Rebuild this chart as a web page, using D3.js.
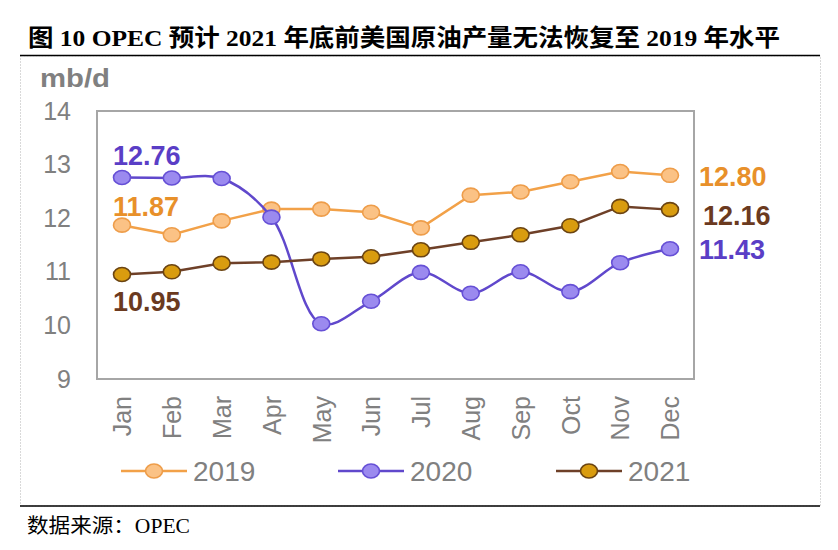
<!DOCTYPE html>
<html><head><meta charset="utf-8">
<script src="https://cdn.jsdelivr.net/npm/d3@7/dist/d3.min.js"></script>
<style>body{margin:0;background:#fff}svg{display:block}</style>
</head><body>
<svg id="c" width="838" height="550"></svg>
<script>
const months = ["Jan","Feb","Mar","Apr","May","Jun","Jul","Aug","Sep","Oct","Nov","Dec"];
const s2019 = [11.87,11.69,11.95,12.17,12.17,12.11,11.82,12.43,12.49,12.68,12.87,12.80];
const s2020 = [12.76,12.75,12.74,12.02,10.03,10.45,10.99,10.60,11.00,10.63,11.17,11.43];
const s2021 = [10.95,11.00,11.16,11.18,11.24,11.28,11.41,11.55,11.69,11.86,12.22,12.16];
const yTicks = [9,10,11,12,13,14];
const seriesNames = ["2019","2020","2021"];
const title = "图 10 OPEC 预计 2021 年底前美国原油产量无法恢复至 2019 年水平";
const source = "数据来源：OPEC";
const unit = "mb/d";

const svg = d3.select("#c");
const x = d3.scalePoint().domain(months).range([122, 670]);
const y = d3.scaleLinear().domain([9, 14]).range([379, 111]);

const styles = [
  {name:"2019", data:s2019, line:"#f2a148", fill:"#fbc285", stroke:"#ee9d4a", label:"#e8902a", curve:d3.curveLinear},
  {name:"2020", data:s2020, line:"#6048cc", fill:"#9b8aef", stroke:"#6650d6", label:"#5a3ec6", curve:d3.curveCatmullRom.alpha(0.5)},
  {name:"2021", data:s2021, line:"#6e4028", fill:"#d99c0f", stroke:"#6b4412", label:"#6b3a1f", curve:d3.curveLinear}
];

// outer frame
svg.append("rect").attr("x",20.5).attr("y",56).attr("width",800).attr("height",450)
  .attr("fill","none").attr("stroke","#d9d9d9").attr("stroke-width",1).attr("stroke-dasharray","2,1");

// title
svg.append("text").attr("x",28).attr("y",46).text(title)
  .attr("font-family","'Liberation Serif','Noto Sans CJK SC',serif").attr("font-weight","bold")
  .attr("font-size",24).attr("fill","#000").attr("textLength",752).attr("lengthAdjust","spacingAndGlyphs");
svg.append("line").attr("x1",20).attr("x2",820).attr("y1",55.5).attr("y2",55.5).attr("stroke","#000").attr("stroke-width",1.5);
svg.append("line").attr("x1",20).attr("x2",820).attr("y1",506).attr("y2",506).attr("stroke","#000").attr("stroke-width",1.5);
svg.append("text").attr("x",27).attr("y",533).text(source)
  .attr("font-family","'Liberation Serif','Noto Sans CJK SC',serif").attr("font-size",20).attr("fill","#000")
  .attr("textLength",163).attr("lengthAdjust","spacingAndGlyphs");

// plot frame
svg.append("rect").attr("x",97).attr("y",111).attr("width",597).attr("height",268)
  .attr("fill","none").attr("stroke","#a6a6a6").attr("stroke-width",2);

// y axis
const yAxis = d3.axisLeft(y).tickValues(yTicks).tickSize(0).tickPadding(0).tickFormat(d3.format("d"));
const ya = svg.append("g").attr("transform","translate(71,0)").call(yAxis);
ya.select(".domain").remove();
ya.selectAll("text").attr("font-family","'Liberation Sans',Arial,sans-serif").attr("font-size",25).attr("fill","#808080");

svg.append("text").attr("x",40).attr("y",87).text(unit)
  .attr("font-family","'Liberation Sans',Arial,sans-serif").attr("font-weight","bold").attr("font-size",25).attr("fill","#808080")
  .attr("textLength",70).attr("lengthAdjust","spacingAndGlyphs");

// x axis
const xAxis = d3.axisBottom(x).tickSize(0).tickPadding(0);
const xa = svg.append("g").attr("transform","translate(0,396)").call(xAxis);
xa.select(".domain").remove();
xa.selectAll("text").attr("font-family","'Liberation Sans',Arial,sans-serif").attr("font-size",25).attr("fill","#808080")
  .attr("text-anchor","end").attr("dy","0.35em").attr("transform","rotate(-90)");

// series
styles.forEach(s => {
  const line = d3.line().x((d,i)=>x(months[i])).y(d=>y(d)).curve(s.curve);
  svg.append("path").attr("d",line(s.data)).attr("fill","none").attr("stroke",s.line).attr("stroke-width",2.5);
  svg.append("g").selectAll("ellipse").data(s.data).join("ellipse")
    .attr("cx",(d,i)=>x(months[i])).attr("cy",d=>y(d)).attr("rx",8.5).attr("ry",7)
    .attr("fill",s.fill).attr("stroke",s.stroke).attr("stroke-width",1.6);
});

// data labels
const lblFont = "'Liberation Sans',Arial,sans-serif";
function lbl(txt, xx, yy, col){
  svg.append("text").attr("x",xx).attr("y",yy).text(txt).attr("font-family",lblFont)
    .attr("font-weight","bold").attr("font-size",27).attr("fill",col).attr("dy","0.35em");
}
lbl(d3.format(".2f")(s2020[0]), 113, 156, styles[1].label);
lbl(d3.format(".2f")(s2019[0]), 113, 207, styles[0].label);
lbl(d3.format(".2f")(s2021[0]), 113, 302, styles[2].label);
lbl(d3.format(".2f")(s2019[11]), 699, 177, styles[0].label);
lbl(d3.format(".2f")(s2021[11]), 703, 216, styles[2].label);
lbl(d3.format(".2f")(s2020[11]), 699, 250, styles[1].label);

// legend
const legX = [121, 338, 556];
styles.forEach((s,i) => {
  const g = svg.append("g").attr("transform",`translate(${legX[i]},471)`);
  g.append("line").attr("x1",0).attr("x2",66).attr("y1",0).attr("y2",0).attr("stroke",s.line).attr("stroke-width",2.5);
  g.append("ellipse").attr("cx",33).attr("cy",0).attr("rx",8.5).attr("ry",7).attr("fill",s.fill).attr("stroke",s.stroke).attr("stroke-width",1.6);
  g.append("text").attr("x",72).attr("y",0).attr("dy","0.35em").text(seriesNames[i])
    .attr("font-family",lblFont).attr("font-size",28).attr("fill","#808080");
});
</script>
</body></html>
